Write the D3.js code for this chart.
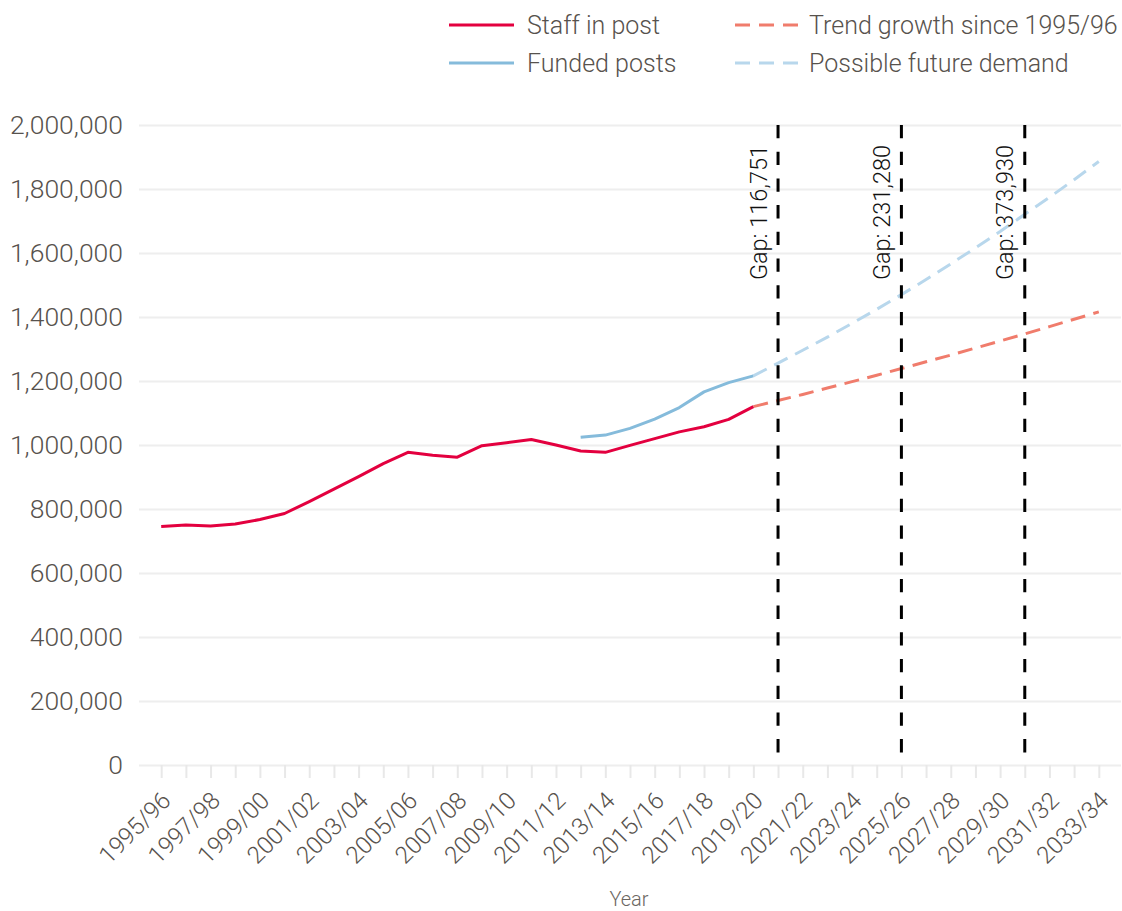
<!DOCTYPE html>
<html>
  <head>
    <meta http-equiv="Content-type" content="text/html; charset=utf-8"/>
    <title>Staff in post and possible future demand</title>
    <script src="https://d3js.org/d3.v7.min.js"></script>
    <style>
      body{
        margin: 0;
        background: #fff;
      }
      svg text{
        font-family: Roboto, "Liberation Sans", sans-serif;
        font-weight: 300;
        fill: #57524d;
      }
    </style>
  </head>
  <body>
    <svg width="1122" height="911"></svg>
    <script>
      // ### Data ###
      var years = ["1995/96","1996/97","1997/98","1998/99","1999/00","2000/01","2001/02","2002/03",
                   "2003/04","2004/05","2005/06","2006/07","2007/08","2008/09","2009/10","2010/11",
                   "2011/12","2012/13","2013/14","2014/15","2015/16","2016/17","2017/18","2018/19",
                   "2019/20","2020/21","2021/22","2022/23","2023/24","2024/25","2025/26","2026/27",
                   "2027/28","2028/29","2029/30","2030/31","2031/32","2032/33","2033/34"];

      // staff in post, 1995/96 .. 2019/20
      var staffInPost = [745000, 750000, 747000, 753000, 767000, 786000, 823000, 862000,
                         901000, 942000, 977000, 968000, 962000, 998000, 1007000, 1017000,
                         1000000, 981000, 977000, 999000, 1020000, 1041000, 1057000, 1080000, 1120000];

      // funded posts, 2012/13 .. 2019/20
      var fundedPosts = [1024000, 1031000, 1052000, 1081000, 1117000, 1166000, 1195000, 1216000];

      // trend growth since 1995/96, 2019/20 .. 2033/34
      var trendGrowth = [1120000, 1139000, 1158000, 1178000, 1198000, 1218000, 1239000, 1260000,
                         1281000, 1303000, 1325000, 1347000, 1370000, 1393000, 1416000];

      // possible future demand, 2019/20 .. 2033/34
      var futureDemand = [1216000, 1256000, 1296000, 1337000, 1380000, 1424000, 1470000, 1517000,
                          1566000, 1616000, 1667000, 1721000, 1774000, 1829000, 1886000];

      var gapYears = ["2020/21", "2025/26", "2030/31"];
      var gapValues = [116751, 231280, 373930];

      var yTicks = [0, 200000, 400000, 600000, 800000, 1000000, 1200000, 1400000, 1600000, 1800000, 2000000];

      function series(startYear, values){
        var i0 = years.indexOf(startYear);
        return values.map(function(v, i){ return [years[i0 + i], v]; });
      }

      var svg = d3.select("svg");

      var x = d3.scalePoint()
          .domain(years)
          .range([139, 1121])
          .padding(0.9);

      var y = d3.scaleLinear()
          .domain([0, 2000000])
          .range([765, 125]);

      var fmt = d3.format(",");

      // y axis with gridlines
      var yAxis = svg.append("g")
          .attr("transform", "translate(139,0)")
          .call(d3.axisLeft(y).tickValues(yTicks).tickFormat(fmt).tickSize(-982).tickPadding(16));
      yAxis.select(".domain").remove();
      yAxis.selectAll("line").attr("stroke", "#eeeeee").attr("stroke-width", 2);
      yAxis.selectAll("text").attr("font-size", 26.5).attr("fill", "#57524d");

      // x axis: tick every year, label every other year
      var xAxis = svg.append("g")
          .attr("transform", "translate(0,765)")
          .call(d3.axisBottom(x).tickSize(13).tickFormat(""));
      xAxis.select(".domain").remove();
      xAxis.selectAll("line").attr("stroke", "#e8e8e8").attr("stroke-width", 2);

      svg.append("g")
        .selectAll("text")
        .data(years.filter(function(d, i){ return i % 2 === 0; }))
        .join("text")
          .attr("transform", function(d){ return "translate(" + (x(d) + 11) + ",802) rotate(-45)"; })
          .attr("text-anchor", "end")
          .attr("font-size", 24)
          .text(function(d){ return d; });

      svg.append("text")
          .attr("x", 629)
          .attr("y", 906)
          .attr("text-anchor", "middle")
          .attr("font-size", 20)
          .style("fill", "#6b6661")
          .text("Year");

      var line = d3.line()
          .x(function(d){ return x(d[0]); })
          .y(function(d){ return y(d[1]); });

      var lines = [
        {data: series("2019/20", futureDemand), color: "#b8d7ec", dash: "15,8.5"},
        {data: series("2019/20", trendGrowth), color: "#f07c6c", dash: "15,8.5"},
        {data: series("2012/13", fundedPosts), color: "#85bbdb", dash: null},
        {data: series("1995/96", staffInPost), color: "#e3003f", dash: null}
      ];

      svg.append("g")
        .selectAll("path")
        .data(lines)
        .join("path")
          .attr("fill", "none")
          .attr("stroke", function(d){ return d.color; })
          .attr("stroke-width", 3)
          .attr("stroke-dasharray", function(d){ return d.dash; })
          .attr("stroke-linejoin", "round")
          .attr("d", function(d){ return line(d.data); });

      // gap markers
      var gaps = svg.append("g")
        .selectAll("g")
        .data(gapYears.map(function(d, i){ return {year: d, gap: gapValues[i]}; }))
        .join("g");

      gaps.append("line")
          .attr("x1", function(d){ return x(d.year); })
          .attr("x2", function(d){ return x(d.year); })
          .attr("y1", y(2000000))
          .attr("y2", y(0))
          .attr("stroke", "#000")
          .attr("stroke-width", 3)
          .attr("stroke-dasharray", "13.3,13.4");

      gaps.append("text")
          .attr("transform", function(d){ return "translate(" + (x(d.year) - 11.5) + ",145) rotate(-90)"; })
          .attr("text-anchor", "end")
          .attr("font-size", 23.5)
          .style("fill", "#111")
          .text(function(d){ return "Gap: " + fmt(d.gap); });

      // legend
      var legendItems = [
        {label: "Staff in post", color: "#e3003f", dash: null, x: 449, y: 25},
        {label: "Funded posts", color: "#85bbdb", dash: null, x: 449, y: 63},
        {label: "Trend growth since 1995/96", color: "#f07c6c", dash: "15,9", x: 735, y: 25},
        {label: "Possible future demand", color: "#b8d7ec", dash: "15,9", x: 735, y: 63}
      ];

      var legend = svg.append("g")
        .selectAll("g")
        .data(legendItems)
        .join("g")
          .attr("transform", function(d){ return "translate(" + d.x + "," + d.y + ")"; });

      legend.append("line")
          .attr("x1", 0)
          .attr("x2", function(d){ return d.dash ? 63 : 65; })
          .attr("stroke", function(d){ return d.color; })
          .attr("stroke-width", 3)
          .attr("stroke-dasharray", function(d){ return d.dash; });

      legend.append("text")
          .attr("x", function(d){ return d.dash ? 74 : 78; })
          .attr("y", 9)
          .attr("font-size", 25)
          .text(function(d){ return d.label; });
    </script>
  </body>
</html>
